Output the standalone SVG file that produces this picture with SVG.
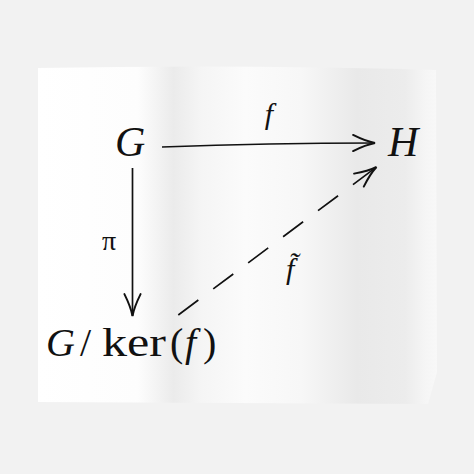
<svg xmlns="http://www.w3.org/2000/svg" width="474" height="474" viewBox="0 0 474 474">
<defs>
<linearGradient id="paper" gradientUnits="userSpaceOnUse" x1="38" y1="0" x2="437" y2="0">
<stop offset="0" stop-color="#ffffff"/>
<stop offset="0.25" stop-color="#fdfdfd"/>
<stop offset="0.34" stop-color="#ebebeb"/>
<stop offset="0.41" stop-color="#f5f5f5"/>
<stop offset="0.52" stop-color="#fbfbfb"/>
<stop offset="0.66" stop-color="#f7f7f7"/>
<stop offset="0.8" stop-color="#e9e9e9"/>
<stop offset="0.92" stop-color="#ececec"/>
<stop offset="0.97" stop-color="#f5f5f5"/>
<stop offset="1" stop-color="#f8f8f8"/>
</linearGradient>
<marker id="arr" markerUnits="userSpaceOnUse" markerWidth="30" markerHeight="30" viewBox="-22 -12 26 24" refX="0" refY="0" orient="auto">
<path d="M-19,-7 Q-8,-1.5 0,0 Q-8,1.5 -19,7" fill="none" stroke="#111" stroke-width="1.7" stroke-linecap="round"/>
</marker>
</defs>
<style>
text{font-family:'Liberation Serif','Times New Roman',serif;fill:#111}
.i{font-style:italic}
.ln{fill:none;stroke:#111;stroke-width:1.7}
</style>
<rect width="474" height="474" fill="#f2f2f2"/>
<path d="M38,68 Q240,64 436,70 L437,372 L428,404 L38,402 Z" fill="url(#paper)"/>
<g id="connectors">
<path class="ln" d="M162,147 Q270,143 375,143" marker-end="url(#arr)"/>
<path class="ln" d="M132.5,168 L132.5,316" marker-end="url(#arr)"/>
<path class="ln" d="M178.3,315 L376.5,167" stroke-dasharray="25 18.6" marker-end="url(#arr)"/>
<text class="i" x="269" y="124" font-size="30" text-anchor="middle">f</text>
<text x="109" y="250" font-size="28" text-anchor="middle">π</text>
<text class="i" x="286" y="279" font-size="30">f̃</text>
</g>
<g id="G"><text class="i" x="115" y="156" font-size="42">G</text></g>
<g id="H"><text class="i" x="388" y="156" font-size="42">H</text></g>
<g id="Gker">
<text y="356" font-size="40"><tspan class="i" x="46">G</tspan><tspan x="80">/</tspan><tspan x="102" textLength="64" lengthAdjust="spacingAndGlyphs">ker</tspan><tspan x="170">(</tspan><tspan class="i" x="185">f</tspan><tspan x="203">)</tspan></text>
</g>
</svg>
